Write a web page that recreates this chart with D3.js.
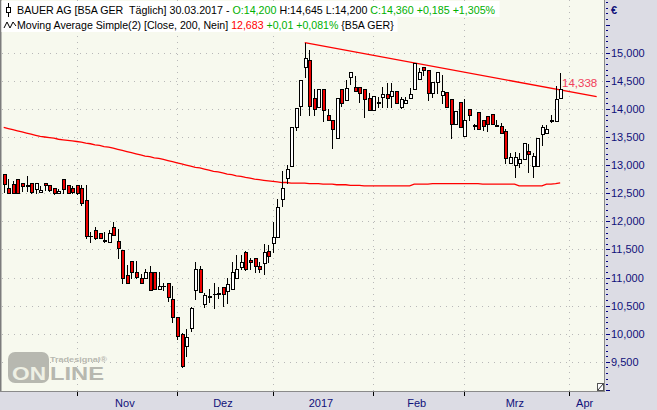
<!DOCTYPE html>
<html><head><meta charset="utf-8">
<script src="https://cdn.jsdelivr.net/npm/d3@7"></script>
<style>
html,body{margin:0;padding:0;background:#dcdce4;overflow:hidden;}
svg{display:block;}
text{font-family:"Liberation Sans",Arial,sans-serif;white-space:pre;}
</style></head><body>
<svg id="c" width="657" height="410"></svg>
<script>
// ---- calendar (trading days) ----
const firstDay = "2016-10-10";
const calendarEnd = "2017-04-28";
const holidays = ["2016-12-26","2017-04-14","2017-04-17"];
const monthNames = ["Jan","Feb","Mrz","Apr","Mai","Jun","Jul","Aug","Sep","Okt","Nov","Dez"];

// ---- OHLC (one entry per trading day, 10.10.2016 .. 30.03.2017) ----
const open  = [12.84,12.59,12.66,12.75,12.69,12.65,12.68,12.57,12.52,12.68,
  12.65,12.59,12.50,12.75,12.65,12.60,12.65,12.59,12.38,11.73,
  11.85,11.80,11.66,11.64,11.89,11.65,11.49,11.04,11.29,11.09,
  11.00,10.99,11.09,11.09,10.79,10.84,10.90,10.62,10.29,9.99,
  9.79,10.11,10.77,11.15,10.53,10.66,10.70,10.71,10.83,10.76,
  10.79,11.00,11.19,11.45,11.31,11.34,11.20,11.25,11.47,11.61,
  11.72,12.39,12.77,12.98,13.67,14.05,14.74,14.87,14.19,14.03,
  14.35,13.90,13.81,13.49,14.35,14.15,14.56,14.39,14.39,14.35,
  14.19,13.98,14.11,14.22,14.27,14.23,14.31,14.03,14.10,14.19,
  14.35,14.54,14.74,14.69,14.29,14.48,14.25,14.30,14.17,13.74,
  14.12,13.51,13.99,13.70,13.94,13.80,13.87,13.91,13.71,13.70,
  13.61,13.04,13.00,13.03,13.10,13.25,12.99,12.99,13.55,13.58,
  13.79,13.79,14.20];
const high  = [12.84,12.75,12.72,12.75,12.69,12.81,12.68,12.68,12.62,12.68,
  12.65,12.59,12.57,12.75,12.65,12.62,12.65,12.65,12.65,11.81,
  11.90,11.80,11.81,11.85,11.98,11.86,11.49,11.23,11.29,11.29,
  11.07,11.15,11.20,11.09,11.09,10.90,10.90,10.85,10.29,10.01,
  10.08,10.48,11.28,11.20,10.72,10.80,10.90,10.83,10.83,10.99,
  11.27,11.40,11.40,11.47,11.34,11.34,11.28,11.59,11.58,11.99,
  12.39,12.90,13.00,13.67,14.01,14.51,15.18,15.05,14.35,14.35,
  14.35,13.99,13.81,14.19,14.35,14.51,14.66,14.59,14.39,14.35,
  14.29,14.23,14.22,14.39,14.46,14.46,14.31,14.22,14.22,14.38,
  14.81,14.72,14.74,14.69,14.48,14.66,14.60,14.30,14.17,13.96,
  14.12,14.17,13.99,13.74,13.94,13.80,13.87,13.91,13.81,13.75,
  13.64,13.22,13.24,13.22,13.39,13.37,13.22,13.49,13.71,13.71,
  13.90,14.41,14.645];
const low   = [12.52,12.50,12.50,12.50,12.54,12.54,12.50,12.50,12.52,12.56,
  12.54,12.49,12.50,12.50,12.50,12.50,12.49,12.29,11.70,11.64,
  11.69,11.70,11.64,11.64,11.76,11.34,10.90,10.90,10.99,10.99,
  10.90,10.99,10.77,10.79,10.79,10.78,10.59,10.21,9.91,9.41,
  9.61,10.04,10.62,10.75,10.48,10.57,10.46,10.63,10.50,10.55,
  10.79,11.00,11.16,11.13,11.15,11.10,11.10,11.06,11.28,11.45,
  11.72,12.28,12.68,12.98,13.62,13.90,14.57,13.89,13.90,14.03,
  13.78,13.80,13.30,13.49,14.05,14.15,14.44,14.31,14.13,13.85,
  13.98,13.98,14.03,14.04,14.03,14.03,14.10,14.01,14.10,14.19,
  14.35,14.54,14.60,14.15,14.21,14.28,14.10,14.03,13.49,13.74,
  13.67,13.51,13.80,13.65,13.65,13.62,13.61,13.74,13.69,13.58,
  13.04,13.04,12.79,12.96,13.10,12.87,12.79,12.99,13.36,13.58,
  13.76,13.79,14.20];
const close = [12.66,12.50,12.50,12.51,12.62,12.63,12.52,12.68,12.55,12.64,
  12.56,12.50,12.54,12.57,12.50,12.52,12.50,12.32,11.73,11.74,
  11.70,11.70,11.65,11.79,11.76,11.52,11.00,10.90,11.09,11.01,
  10.90,11.10,10.77,10.79,10.85,10.85,10.66,10.29,9.96,9.43,
  9.94,10.46,11.15,10.75,10.68,10.67,10.71,10.72,10.70,10.88,
  11.09,11.16,11.27,11.15,11.27,11.21,11.16,11.45,11.39,11.72,
  12.25,12.59,12.93,13.67,14.01,14.51,14.90,14.05,13.99,14.35,
  13.98,13.81,13.65,14.19,14.10,14.37,14.66,14.31,14.29,14.17,
  13.98,14.23,14.12,14.27,14.19,14.32,14.11,14.17,14.16,14.27,
  14.81,14.66,14.69,14.28,14.48,14.66,14.31,14.03,13.74,13.96,
  13.67,13.80,13.90,13.71,13.65,13.70,13.74,13.74,13.70,13.58,
  13.13,13.14,13.14,13.11,13.39,13.19,13.17,13.49,13.67,13.65,
  13.80,14.17,14.36];
// ---- Moving Average Simple (200) ----
const ma200 = [13.67,13.65,13.63,13.61,13.59,13.57,13.55,13.53,13.51,13.50,
  13.49,13.48,13.46,13.45,13.44,13.43,13.42,13.41,13.39,13.38,
  13.36,13.35,13.33,13.32,13.30,13.28,13.26,13.24,13.22,13.20,
  13.18,13.16,13.15,13.13,13.12,13.10,13.08,13.06,13.04,13.02,
  13.00,12.98,12.96,12.95,12.93,12.91,12.89,12.88,12.86,12.84,
  12.83,12.81,12.80,12.78,12.77,12.75,12.74,12.73,12.72,12.71,
  12.70,12.69,12.69,12.68,12.68,12.68,12.68,12.67,12.67,12.67,
  12.66,12.66,12.66,12.65,12.65,12.65,12.64,12.64,12.64,12.63,
  12.63,12.63,12.63,12.63,12.63,12.63,12.63,12.63,12.63,12.63,
  12.66,12.66,12.66,12.66,12.67,12.67,12.67,12.67,12.67,12.67,
  12.67,12.67,12.67,12.67,12.67,12.66,12.66,12.66,12.66,12.66,
  12.66,12.66,12.66,12.63,12.63,12.63,12.63,12.63,12.63,12.66,
  12.66,12.67,12.683];
// ---- trend line (anchor index, value) ----
const trendIdx = [66, 130];
const trendVal = [15.18, 14.218];
const trendLabelIdx = 122;
const trendLabelVal = 14.338;
// ---- axis ticks ----
const yTicks = [9.5,10,10.5,11,11.5,12,12.5,13,13.5,14,14.5,15];
// ---- header ----
const header1 = [["BAUER AG [B5A GER  Täglich] 30.03.2017 - ","#000"],["O:14,200","#00b000"],[" H:14,645 L:14,200 ","#000"],["C:14,360 +0,185 +1,305%","#00b000"]];
const header2 = [["Moving Average Simple(2) [Close, 200, Nein] ","#000"],["12,683","#ff0000"],[" +0,01 +0,081%","#00b000"],[" {B5A GER}","#000"]];

const W = 657, H = 410, plotR = 604, plotB = 391;
const svg = d3.select("#c");
const fmtDay = d3.utcFormat("%Y-%m-%d");
const days = d3.utcDay.range(new Date(firstDay+"T00:00:00Z"), new Date(calendarEnd+"T00:00:00Z"))
  .filter(d => d.getUTCDay() % 6 !== 0 && !holidays.includes(fmtDay(d)));

const x = d3.scaleLinear().domain([-0.816, 131.61]).range([0, plotR]);
const y = d3.scaleLinear().domain([9, 15]).range([52.7 + 6*56.2, 52.7]);

svg.append("rect").attr("width", W).attr("height", H).attr("fill", "#dcdce4");
svg.append("rect").attr("width", plotR).attr("height", plotB).attr("fill", "#f7f9ee");

const fmtNum = v => v.toFixed(3).replace(".", ",");

// gridlines
const grid = svg.append("g").attr("stroke", "#b8b8b8").attr("stroke-width", 1).attr("stroke-dasharray", "1,5").attr("shape-rendering","crispEdges");
yTicks.forEach(v => {
  const yy = Math.round(y(v)) + 0.5;
  grid.append("line").attr("x1", 2).attr("x2", plotR).attr("y1", yy).attr("y2", yy);
});
const monthTicks = [];
for (let i = 1; i < days.length; i++) {
  if (days[i].getUTCMonth() !== days[i-1].getUTCMonth()) monthTicks.push(i);
}
monthTicks.forEach(i => {
  const xx = Math.round(x(i)) + 0.5;
  if (xx < plotR) grid.append("line").attr("x1", xx).attr("x2", xx).attr("y1", 0).attr("y2", plotB);
});

// watermark
const wm = svg.append("g").attr("fill", "#b7b8b0");
wm.append("rect").attr("x", 8).attr("y", 352).attr("width", 41).attr("height", 31).attr("rx", 7);
wm.append("text").attr("x", 12).attr("y", 380).attr("font-size", 19).attr("font-weight", "bold")
  .attr("fill", "#eef0e4").attr("font-family","DejaVu Sans").attr("textLength", 34).attr("lengthAdjust","spacingAndGlyphs").text("ON");
wm.append("text").attr("x", 50).attr("y", 380).attr("font-size", 19).attr("font-weight", "bold")
  .attr("font-family","DejaVu Sans").attr("textLength", 54).attr("lengthAdjust","spacingAndGlyphs").text("LINE");
wm.append("text").attr("x", 50).attr("y", 362).attr("font-size", 8).attr("font-weight", "bold")
  .attr("textLength", 57).attr("lengthAdjust","spacingAndGlyphs").text("Tradesignal®");

// moving average
const maLine = d3.line().x((d, i) => x(i)).y(d => y(d));
svg.append("path").attr("d", maLine(ma200)).attr("fill", "none").attr("stroke", "#ff0000").attr("stroke-width", 1.3);

// trend line
svg.append("line").attr("x1", x(trendIdx[0])).attr("y1", y(trendVal[0]))
  .attr("x2", x(trendIdx[1])).attr("y2", y(trendVal[1]))
  .attr("stroke", "#ff0000").attr("stroke-width", 1.4);

// candles
const cg = svg.append("g").attr("shape-rendering", "crispEdges");
open.forEach((o, i) => {
  const px = Math.round(x(i));
  const c = close[i];
  cg.append("line").attr("x1", px + 0.5).attr("x2", px + 0.5)
    .attr("y1", Math.round(y(high[i]))).attr("y2", Math.round(y(low[i])) + 1)
    .attr("stroke", "#000");
  const yt = Math.round(y(Math.max(o, c))), yb = Math.round(y(Math.min(o, c)));
  if (yb - yt < 1) {
    cg.append("line").attr("x1", px - 1.5).attr("x2", px + 2.5).attr("y1", yt + 0.5).attr("y2", yt + 0.5).attr("stroke", "#000");
  } else {
    cg.append("rect").attr("x", px - 1).attr("y", yt + 0.5).attr("width", 3).attr("height", yb - yt)
      .attr("fill", c < o ? "#ee0000" : "#ffffff").attr("stroke", "#000").attr("stroke-width", 1);
  }
});

// trend label
svg.append("text").attr("x", 562).attr("y", y(trendLabelVal) - 3).attr("font-size", 11.5)
  .attr("fill", "#f2405a").text(fmtNum(trendLabelVal));

// borders
svg.append("rect").attr("x", 0).attr("y", 0).attr("width", 1.5).attr("height", plotB).attr("fill", "#7c7c7c");
svg.append("line").attr("x1", 0).attr("x2", plotR + 1).attr("y1", plotB + 0.5).attr("y2", plotB + 0.5).attr("stroke", "#8a8a8a");
svg.append("line").attr("x1", plotR + 0.5).attr("x2", plotR + 0.5).attr("y1", 0).attr("y2", plotB + 1).attr("stroke", "#8a8a8a");

// right axis
const ax = svg.append("g").attr("shape-rendering", "crispEdges");
for (let k = 89; k <= 160; k++) {
  const v = k / 10, yy = Math.round(y(v)) + 0.5;
  if (yy < 1 || yy > plotB) continue;
  const major = k % 5 === 0;
  ax.append("line").attr("x1", plotR + 2).attr("x2", plotR + (major ? 6 : 4)).attr("y1", yy).attr("y2", yy).attr("stroke", "#000080");
}
yTicks.forEach(v => {
  svg.append("text").attr("x", 611).attr("y", y(v) + 4).attr("font-size", 11).attr("fill", "#10107a").text(fmtNum(v));
});
svg.append("text").attr("x", 611).attr("y", 14).attr("font-size", 11).attr("font-weight","bold").attr("fill", "#10107a").text("€");

// bottom axis
monthTicks.forEach((i, k) => {
  const xx = Math.round(x(i)) + 0.5;
  if (xx >= plotR) return;
  svg.append("line").attr("x1", xx).attr("x2", xx).attr("y1", plotB + 1).attr("y2", plotB + 5).attr("stroke", "#000").attr("shape-rendering","crispEdges");
  const nx = k + 1 < monthTicks.length ? Math.min(x(monthTicks[k+1]), plotR) : plotR;
  const d = days[i];
  const lab = d.getUTCMonth() === 0 ? String(d.getUTCFullYear()) : monthNames[d.getUTCMonth()];
  svg.append("text").attr("x", (x(i) + nx) / 2 - 2).attr("y", 407).attr("text-anchor", "middle")
    .attr("font-size", 11).attr("fill", "#10107a").text(lab);
});

// resize icon
svg.append("rect").attr("x", 597.5).attr("y", 383.5).attr("width", 6).attr("height", 7).attr("fill", "#fff").attr("stroke", "#555");
svg.append("line").attr("x1", 598).attr("y1", 390).attr("x2", 603).attr("y2", 384).attr("stroke", "#333");

// header
function header(parts, yBase, target, yTop, h) {
  const bg = svg.append("rect").attr("x", 1.5).attr("y", yTop).attr("height", h).attr("fill", "#ffffff");
  const t = svg.append("text").attr("x", 17).attr("y", yBase).attr("font-size", 11);
  parts.forEach(p => t.append("tspan").attr("fill", p[1]).text(p[0]));
  const w = t.node().getComputedTextLength();
  t.attr("font-size", 11 * target / w);
  bg.attr("width", 17 + target + 2);
}
header(header1, 14.3, 479, 1, 16);
header(header2, 28.5, 377, 17, 15);
// icons
svg.append("line").attr("x1", 8.5).attr("x2", 8.5).attr("y1", 3).attr("y2", 17).attr("stroke", "#000");
svg.append("rect").attr("x", 6.5).attr("y", 7.5).attr("width", 4).attr("height", 5).attr("fill", "#fff").attr("stroke", "#000");
svg.append("path").attr("d", "M4,28 L7,22 L10,28 L13,22 L16,26").attr("fill", "none").attr("stroke", "#000").attr("stroke-width", 1);
</script>
</body></html>
